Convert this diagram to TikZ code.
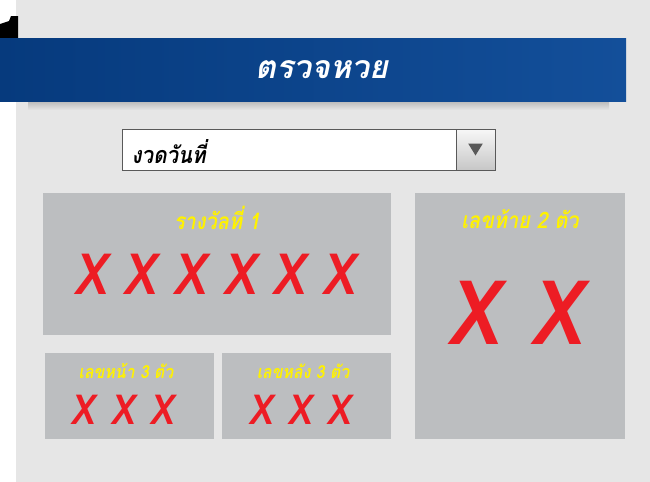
\documentclass[tikz,border=0pt]{standalone}
\usepackage{fontspec}
\usetikzlibrary{fit,positioning}
\newfontfamily\thaifont[Script=Thai]{Loma}
\newfontfamily\thainarrow[Script=Thai,FakeStretch=0.88]{Loma}
\newfontfamily\xfont[FakeStretch=0.85]{Liberation Sans}
\definecolor{pagebg}{HTML}{E6E6E6}
\definecolor{boxgray}{HTML}{BCBEC0}
\definecolor{bannerdark}{HTML}{063A7D}
\definecolor{bannerlight}{HTML}{134F9A}
\definecolor{luckyyellow}{HTML}{FFF200}
\definecolor{luckyred}{HTML}{ED1C24}
\tikzset{
  panel/.style      = {fill=boxgray, inner sep=0pt},
  paneltitle/.style = {text=luckyyellow, font=\thainarrow\bfseries\itshape\fontsize{17}{20}\selectfont},
  smalltitle/.style = {paneltitle, font=\thainarrow\bfseries\itshape\fontsize{13.5}{16}\selectfont},
  digit/.style      = {text=luckyred, inner sep=0pt, font=\xfont\bfseries\itshape\fontsize{44}{44}\selectfont},
  bigdigit/.style   = {digit, font=\xfont\bfseries\itshape\fontsize{69}{69}\selectfont},
  smalldigit/.style = {digit, font=\xfont\bfseries\itshape\fontsize{32}{32}\selectfont}
}
\begin{document}
\begin{tikzpicture}[x=0.75pt, y=-0.75pt]
  \useasboundingbox (0,0) rectangle (650,482);
  \fill[white] (0,0) rectangle (650,482);
  \fill[pagebg] (16,0) rectangle (650,482);
  % corner of the sheet behind
  \fill[black] (0,24) -- (9,21) -- (11,16) -- (18,16) -- (18,38) -- (0,38) -- cycle;
  % banner
  \node[inner sep=0pt, top color=gray!55, bottom color=pagebg,
        fit={(28,101) (609,110)}] (shadow) {};
  \node[inner sep=0pt, left color=bannerdark, right color=bannerlight,
        fit={(0,38) (626,101)}] (banner) {};
  \node[text=white, font=\thaifont\bfseries\itshape\fontsize{24}{27}\selectfont]
    (heading) at (322,70) {ตรวจหวย};
  % date selector
  \node[fill=white, draw=black!65, line width=0.75pt, inner sep=0pt,
        fit={(122,129) (456,170)}] (datefield) {};
  \node[draw=black!65, line width=0.75pt, inner sep=0pt,
        top color=black!3, bottom color=black!22,
        fit={(456,129) (495,170)}] (datebutton) {};
  \fill[black!65] ([xshift=-5.5pt, yshift=4.5pt]datebutton.center)
    -- ([xshift=5.5pt, yshift=4.5pt]datebutton.center)
    -- ([yshift=-4.5pt]datebutton.center) -- cycle;
  \node[anchor=west, font=\thainarrow\bfseries\itshape\fontsize{17.5}{21}\selectfont]
    (datelabel) at (127,152) {งวดวันที่};
  % prize panels
  \node[panel, fit={(43,193) (391,335)}] (first) {};
  \node[panel, fit={(415,193) (625,439)}] (lasttwo) {};
  \node[panel, fit={(45,353) (214,439)}] (frontthree) {};
  \node[panel, fit={(222,353) (391,439)}] (backthree) {};
  \node[paneltitle] (firsttitle) at (217,218) {รางวัลที่ 1};
  \node[paneltitle] (lasttwotitle) at (520,219) {เลขท้าย 2 ตัว};
  \node[smalltitle] (frontthreetitle) at (126,371) {เลขหน้า 3 ตัว};
  \node[smalltitle] (backthreetitle) at (303,371) {เลขหลัง 3 ตัว};
  \foreach \i in {0,...,5}
    \node[digit] (first\i) at (93+49.6*\i,274) {X};
  \foreach \i in {0,1}
    \node[bigdigit] (lasttwo\i) at (478+83*\i,313) {X};
  \foreach \i in {0,1,2}{
    \node[smalldigit] (frontthree\i) at (85+39.5*\i,410) {X};
    \node[smalldigit] (backthree\i) at (263+39*\i,410) {X};
  }
\end{tikzpicture}
\end{document}
